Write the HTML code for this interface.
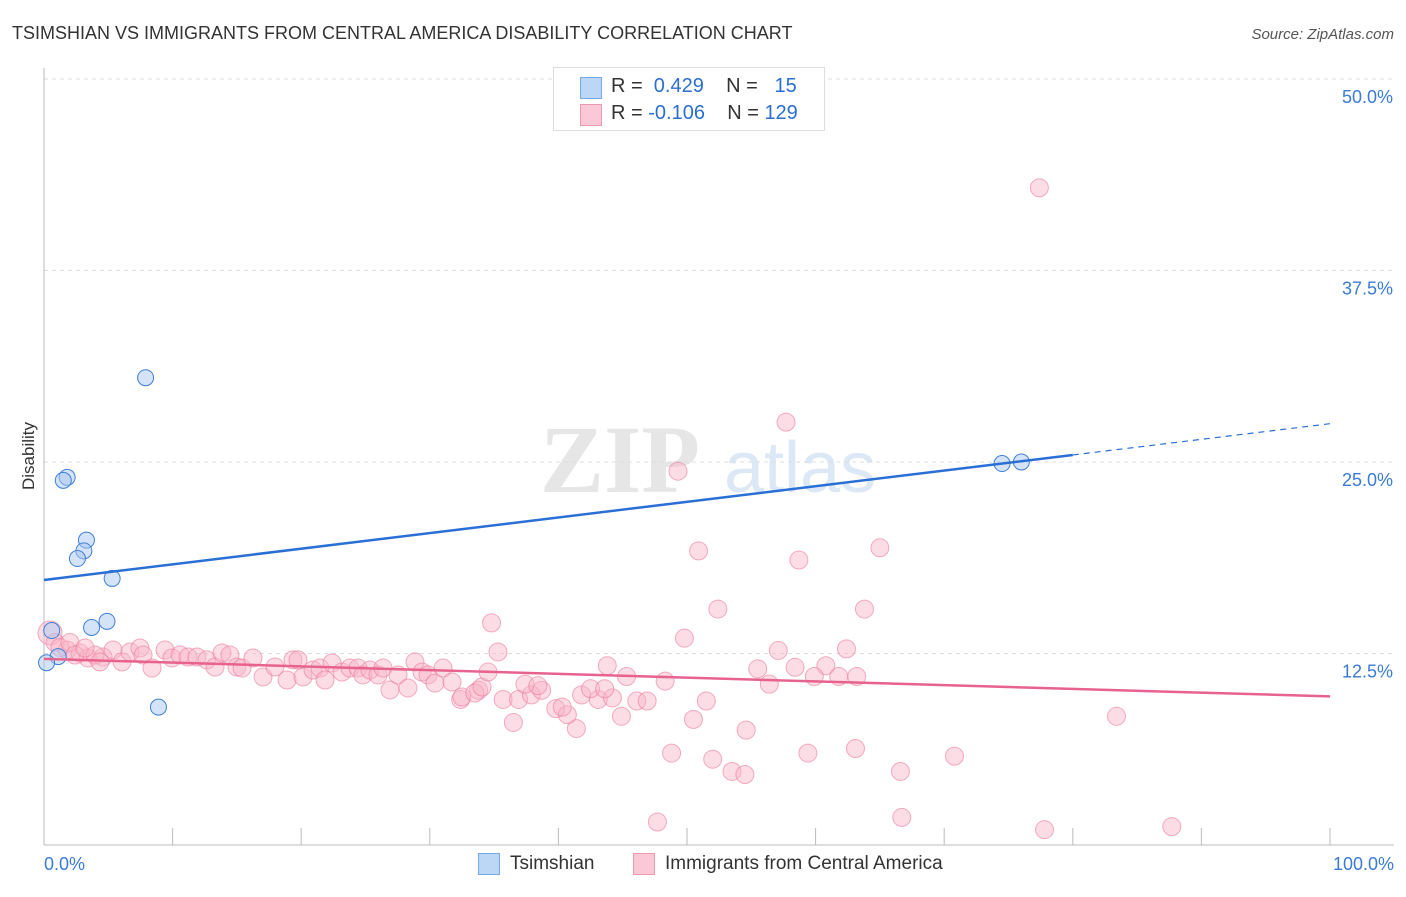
<!DOCTYPE html>
<html><head><meta charset="utf-8"><style>
body{margin:0;background:#fff;font-family:"Liberation Sans",sans-serif}
#wrap{position:relative;width:1406px;height:892px}
</style></head><body>
<div id="wrap">
<svg id="svg" width="1406" height="892" xmlns="http://www.w3.org/2000/svg">
<text x="12" y="39" font-size="18" fill="#333">TSIMSHIAN VS IMMIGRANTS FROM CENTRAL AMERICA DISABILITY CORRELATION CHART</text>
<text x="1394" y="39" font-size="15" fill="#555" font-style="italic" text-anchor="end">Source: ZipAtlas.com</text>
<text x="34" y="456" font-size="17" fill="#333" transform="rotate(-90 34 456)" text-anchor="middle">Disability</text>
<text x="620" y="492" font-size="96" fill="#e6e6e6" font-family="Liberation Serif" font-weight="bold" text-anchor="middle">ZIP</text>
<text x="800" y="492" font-size="72" fill="#dce8f5" text-anchor="middle">atlas</text>
<g id="grid"></g><g id="marks"></g>
</svg>
<div style="position:absolute;left:553px;top:67px;width:270px;height:62px;border:1px solid #ddd;background:#fff;font-size:20px">
<div style="position:absolute;left:26px;top:9px;width:20px;height:20px;background:#bcd6f5;border:1px solid #7aa8e0"></div>
<div style="position:absolute;left:57px;top:7px;color:#333">R = <span style="color:#2a6fd0">&nbsp;0.429</span>&nbsp;&nbsp;&nbsp; N = <span style="color:#2a6fd0">&nbsp;&nbsp;15</span></div>
<div style="position:absolute;left:26px;top:36px;width:20px;height:20px;background:#fac8d6;border:1px solid #ec9ab2"></div>
<div style="position:absolute;left:57px;top:34px;color:#333">R = <span style="color:#2a6fd0">-0.106</span>&nbsp;&nbsp;&nbsp; N = <span style="color:#2a6fd0">129</span></div>
</div>
<div style="position:absolute;left:478px;top:853px;width:20px;height:20px;background:#bcd6f5;border:1px solid #7aa8e0"></div>
<div style="position:absolute;left:510px;top:853px;font-size:19px;color:#333">Tsimshian</div>
<div style="position:absolute;left:633px;top:853px;width:20px;height:20px;background:#fac8d6;border:1px solid #ec9ab2"></div>
<div style="position:absolute;left:665px;top:853px;font-size:19px;color:#333">Immigrants from Central America</div>
</div>
<script>
const yTicks=[12.5,25,37.5,50];
const yTickLabels=["12.5%","25.0%","37.5%","50.0%"];
const xTickLabels=["0.0%","100.0%"];
const blueX=[7.9,1.8,1.5,3.3,3.1,2.6,5.3,4.9,3.7,0.6,1.1,0.2,8.9,74.5,76.0];
const blueY=[30.5,24.0,23.8,19.9,19.2,18.7,17.4,14.6,14.2,14.0,12.3,11.9,9.0,24.9,25.0];
const pinkX=[77.4,57.7,49.3,50.9,58.7,65.0,52.4,63.8,34.8,49.8,57.1,62.4,35.3,43.8,45.3,48.3,55.5,58.4,60.8,59.9,61.8,63.2,56.4,51.5,44.9,50.5,54.6,83.4,48.8,52.0,59.4,63.1,70.8,53.5,54.5,66.6,47.7,66.7,77.8,87.7,36.5,41.4,39.8,40.7,35.7,36.9,41.8,43.1,44.2,46.1,46.9,37.9,38.7,32.4,33.8,42.5,43.6,37.4,38.4,40.3,
0.47,1.79,2.8,3.42,4.59,5.37,6.07,6.69,7.46,7.7,8.4,9.41,9.95,10.58,11.2,11.9,12.67,13.3,13.84,14.46,15.0,15.4,16.25,17.03,17.96,18.9,19.36,19.75,20.14,20.92,21.46,21.85,22.4,23.17,23.79,24.42,24.8,25.35,25.97,26.36,26.9,27.53,28.3,28.85,29.4,29.86,30.4,31.03,31.73,32.5,33.5,34.06,34.53,0.86,1.24,2.02,2.41,3.97,3.19,4.35];
const pinkY=[42.9,27.6,24.4,19.2,18.6,19.4,15.4,15.4,14.5,13.5,12.7,12.8,12.6,11.7,11.0,10.7,11.5,11.6,11.7,11.0,11.0,11.0,10.5,9.4,8.4,8.2,7.5,8.4,6.0,5.6,6.0,6.3,5.8,4.8,4.6,4.8,1.5,1.8,1.0,1.2,8.0,7.6,8.9,8.5,9.5,9.5,9.8,9.5,9.6,9.4,9.4,9.8,10.1,9.5,10.1,10.2,10.2,10.5,10.4,9.0,
13.84,12.73,12.53,12.21,12.27,12.73,11.95,12.6,12.86,12.4,11.55,12.73,12.21,12.4,12.27,12.27,12.08,11.62,12.53,12.4,11.62,11.55,12.21,10.97,11.62,10.77,12.08,12.08,10.97,11.42,11.55,10.77,11.88,11.29,11.55,11.55,11.1,11.42,11.1,11.55,10.12,11.1,10.25,11.95,11.29,11.1,10.57,11.55,10.64,9.66,9.92,10.31,11.29,13.22,12.89,13.22,12.4,12.4,12.86,11.95];
const blueTrend=[17.3,27.5], pinkTrend=[12.15,9.7];
const NS="http://www.w3.org/2000/svg";
const X=v=>44+v*12.86, Y=v=>845-v*15.32;
function mk(t,a,p){const e=document.createElementNS(NS,t);for(const k in a)e.setAttribute(k,a[k]);p.appendChild(e);return e;}
const g=document.getElementById('grid'), m=document.getElementById('marks');
yTicks.forEach((t,i)=>{
 const l=mk('line',{x1:44,x2:1394,y1:Y(t),y2:Y(t),stroke:'#ddd','stroke-dasharray':'4,4'},g);
 
 
 const tx=mk('text',{x:1393,y:Y(t)+24,'font-size':18,fill:'#3a7bd5','text-anchor':'end'},g);tx.textContent=yTickLabels[i];
 
 
});
const ax=mk('line',{x1:44,x2:44,y1:68,y2:845,stroke:'#bbb'},g);


const bx=mk('line',{x1:44,x2:1394,y1:845,y2:845,stroke:'#bbb'},g);


for(let i=0;i<=10;i++){const tk=mk('line',{x1:X(i*10),x2:X(i*10),y1:828,y2:845,stroke:'#bbb'},g);
 
 }
[[0,'start',44],[100,'end',1394]].forEach((d,i)=>{const tx=mk('text',{x:d[2],y:870,'font-size':18,fill:'#3a7bd5','text-anchor':d[1]},g);tx.textContent=xTickLabels[i];
 
 });
pinkX.forEach((x,i)=>{const c=mk('circle',{cx:X(x),cy:Y(pinkY[i]),r:i==60?12:9,fill:'rgba(248,180,200,0.45)',stroke:'rgba(236,120,155,0.6)','stroke-width':1},m);
 
 });
blueX.forEach((x,i)=>{const c=mk('circle',{cx:X(x),cy:Y(blueY[i]),r:8,fill:'rgba(170,200,240,0.5)',stroke:'#3f7fd6','stroke-width':1},m);
 
 });
const by=x=>blueTrend[0]+(blueTrend[1]-blueTrend[0])*x/100;
const bl=mk('line',{x1:X(0),y1:Y(by(0)),x2:X(80),y2:Y(by(80)),stroke:'#2a6fd6','stroke-width':2.5},m);


const bd=mk('line',{x1:X(80),y1:Y(by(80)),x2:X(100),y2:Y(by(100)),stroke:'#2a6fd6','stroke-width':1.2,'stroke-dasharray':'6,5'},m);


const pl=mk('line',{x1:X(0),y1:Y(pinkTrend[0]),x2:X(100),y2:Y(pinkTrend[1]),stroke:'#e8628e','stroke-width':2.5},m);


</script>
</body></html>
